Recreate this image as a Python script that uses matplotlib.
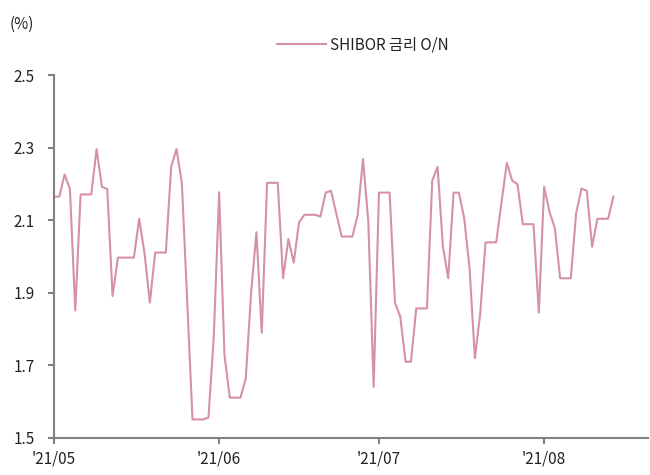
#!/usr/bin/env python3
"""SHIBOR overnight rate, May-Aug 2021 (daily, weekends filled forward)."""

import matplotlib

matplotlib.use("Agg")
import matplotlib.dates as mdates  # noqa: E402
import matplotlib.pyplot as plt  # noqa: E402
import pandas as pd  # noqa: E402

START = "2021-05-01"
SHIBOR_ON = [
    2.165, 2.165, 2.226, 2.186, 1.851, 2.171, 2.171, 2.171, 2.296, 2.192,
    2.186, 1.891, 1.997, 1.997, 1.997, 1.997, 2.104, 2.009, 1.873, 2.011,
    2.011, 2.011, 2.247, 2.296, 2.204, 1.880, 1.551, 1.551, 1.551, 1.556,
    1.780, 2.177, 1.729, 1.611, 1.611, 1.611, 1.664, 1.900, 2.067, 1.790,
    2.203, 2.203, 2.203, 1.940, 2.048, 1.983, 2.094, 2.115, 2.115, 2.115,
    2.110, 2.176, 2.181, 2.118, 2.055, 2.055, 2.055, 2.114, 2.269, 2.096,
    1.641, 2.176, 2.176, 2.176, 1.873, 1.834, 1.710, 1.710, 1.857, 1.857,
    1.857, 2.209, 2.247, 2.027, 1.940, 2.176, 2.176, 2.105, 1.967, 1.720,
    1.843, 2.039, 2.039, 2.039, 2.150, 2.258, 2.209, 2.199, 2.089, 2.089,
    2.089, 1.845, 2.192, 2.123, 2.079, 1.940, 1.940, 1.940, 2.119, 2.187,
    2.181, 2.027, 2.104, 2.104, 2.104, 2.165,
]
MONTH_TICKS = ["2021-05-01", "2021-06-01", "2021-07-01", "2021-08-01"]
Y_TICKS = [1.5, 1.7, 1.9, 2.1, 2.3, 2.5]
LABEL = "SHIBOR 금리 O/N"

LINE_COLOR = "#d590aa"
AXIS_COLOR = "#808080"
TEXT_COLOR = "#222222"

plt.rcParams["font.family"] = ["Noto Sans CJK KR", "DejaVu Sans"]

dates = pd.date_range(START, periods=len(SHIBOR_ON), freq="D")

fig = plt.figure(figsize=(6.5, 4.75), dpi=100)
ax = fig.add_axes([0.083, 0.078, 0.914, 0.764])
ax.plot(dates, SHIBOR_ON, color=LINE_COLOR, lw=1.5, label=LABEL)

x0 = pd.Timestamp(START)
ax.set_xlim(x0, x0 + pd.Timedelta(days=111.5))
ax.set_ylim(1.5, 2.5)
ax.set_yticks(Y_TICKS)
ax.set_yticklabels([f"{v:.1f}" for v in Y_TICKS])
ax.set_xticks(pd.to_datetime(MONTH_TICKS))
ax.xaxis.set_major_formatter(mdates.DateFormatter("'%y/%m"))

for side in ("top", "right"):
    ax.spines[side].set_visible(False)
for side in ("left", "bottom"):
    ax.spines[side].set_color(AXIS_COLOR)
    ax.spines[side].set_linewidth(1.5)
ax.tick_params(axis="both", colors=AXIS_COLOR, width=1.5, length=4,
               labelsize=11, labelcolor=TEXT_COLOR)
ax.tick_params(axis="y", pad=10)
ax.tick_params(axis="x", pad=5)

fig.text(0.015, 0.948, "(%)", fontsize=11, color=TEXT_COLOR, va="center")
ax.legend(loc="center", bbox_to_anchor=(0.52, 1.083), frameon=False,
          fontsize=11, handlelength=3.2, handletextpad=0.3,
          labelcolor=TEXT_COLOR)

fig.savefig("out.png", dpi=100)
